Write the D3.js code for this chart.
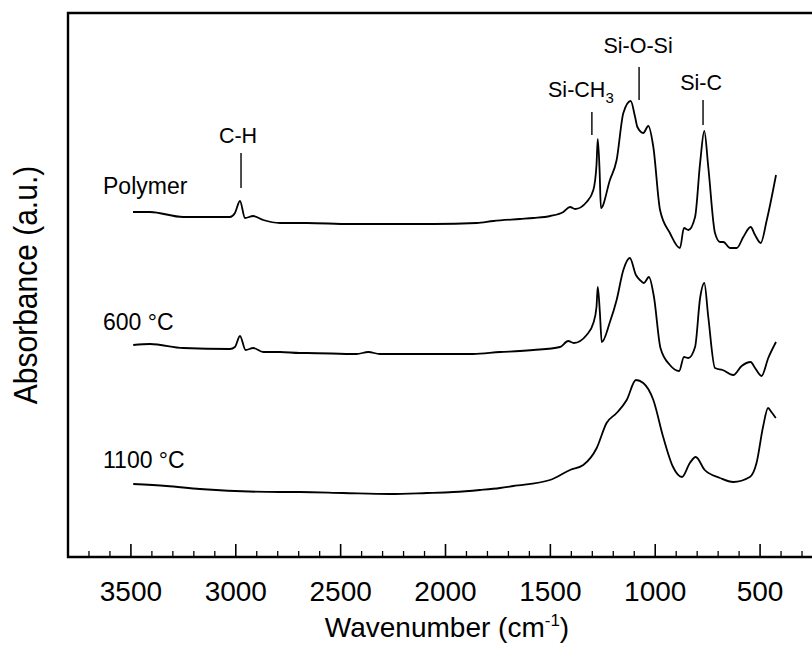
<!DOCTYPE html>
<html>
<head>
<meta charset="utf-8">
<script src="https://cdn.jsdelivr.net/npm/d3@7/dist/d3.min.js"></script>
<style>
  html, body { margin: 0; padding: 0; background: #fff; }
  svg { display: block; font-family: "Liberation Sans", Arial, Helvetica, sans-serif; }
</style>
</head>
<body>
<svg id="chart" width="812" height="648"></svg>
<script>
// ---------- data ----------
const wavenumberTicks = [3500, 3000, 2500, 2000, 1500, 1000, 500];
const seriesNames = ["Polymer", "600 °C", "1100 °C"];

const polymerWn = [3490, 3409, 3251, 3028, 3004, 2980, 2956, 2917, 2869, 2789, 2694, 2662, 2456, 2058, 1851, 1772, 1645, 1581, 1500, 1438, 1406, 1382, 1327, 1295, 1280, 1274, 1265, 1259, 1216, 1184, 1152, 1117, 1096, 1085, 1057, 1033, 1009, 977, 930, 882, 863, 842, 810, 786, 766, 747, 715, 691, 675, 643, 611, 580, 545, 524, 497, 468, 424];
const polymerAbs = [3.45, 3.45, 3.40, 3.40, 3.44, 3.56, 3.39, 3.41, 3.37, 3.34, 3.34, 3.34, 3.33, 3.33, 3.34, 3.36, 3.38, 3.39, 3.41, 3.45, 3.50, 3.48, 3.55, 3.67, 3.92, 4.18, 3.85, 3.49, 3.77, 3.97, 4.44, 4.56, 4.40, 4.30, 4.24, 4.31, 4.10, 3.47, 3.24, 3.09, 3.29, 3.27, 3.40, 3.94, 4.26, 3.90, 3.24, 3.15, 3.15, 3.09, 3.09, 3.20, 3.30, 3.22, 3.14, 3.37, 3.82];

const c600Wn = [3489, 3409, 3251, 3028, 3004, 2980, 2953, 2917, 2869, 2789, 2694, 2662, 2424, 2368, 2313, 1868, 1740, 1645, 1581, 1454, 1415, 1388, 1327, 1295, 1280, 1274, 1264, 1255, 1216, 1184, 1152, 1121, 1092, 1073, 1054, 1030, 1006, 975, 930, 886, 863, 842, 810, 786, 766, 747, 715, 679, 628, 588, 545, 524, 493, 461, 424];
const c600Abs = [2.12, 2.13, 2.09, 2.08, 2.10, 2.21, 2.07, 2.09, 2.05, 2.05, 2.04, 2.04, 2.03, 2.05, 2.03, 2.03, 2.05, 2.06, 2.07, 2.10, 2.16, 2.14, 2.22, 2.34, 2.50, 2.70, 2.45, 2.15, 2.35, 2.57, 2.87, 2.99, 2.82, 2.77, 2.74, 2.80, 2.60, 2.09, 1.92, 1.86, 2.00, 1.99, 2.10, 2.59, 2.74, 2.40, 1.89, 1.87, 1.82, 1.91, 1.95, 1.89, 1.81, 1.99, 2.15];

const c1100Wn = [3489, 3330, 3171, 2789, 2694, 2488, 2265, 2090, 1963, 1836, 1740, 1677, 1502, 1406, 1343, 1279, 1232, 1184, 1136, 1092, 1057, 1009, 962, 915, 872, 835, 807, 764, 691, 628, 549, 517, 486, 462, 446, 425];
const c1100Abs = [0.73, 0.71, 0.68, 0.65, 0.65, 0.64, 0.63, 0.64, 0.65, 0.67, 0.69, 0.71, 0.77, 0.87, 0.92, 1.09, 1.34, 1.44, 1.57, 1.77, 1.74, 1.57, 1.20, 0.90, 0.80, 0.94, 1.00, 0.87, 0.79, 0.75, 0.80, 0.94, 1.30, 1.49, 1.45, 1.39];

// peak annotations: label, wavenumber, line bottom / top and text baseline (absorbance units)
const annotLabels = ["C-H", "Si-CH3", "Si-O-Si", "Si-C"];
const annotWn = [2975, 1302, 1077, 772];
const annotLow = [3.69, 4.22, 4.57, 4.32];
const annotHigh = [4.04, 4.45, 4.90, 4.57];
const annotText = [4.14, 4.60, 5.04, 4.67];

// series label anchor (wavenumber, absorbance)
const seriesLabelWn = [3490, 3490, 3490];
const seriesLabelAbs = [3.63, 2.27, 0.89];

// ---------- drawing ----------
const svg = d3.select("#chart");
const mLeft = 68, mTop = 13, mBottom = 557, mRight = 823;

const x = d3.scaleLinear().domain([3800, 200]).range([mLeft, mRight]);
const y = d3.scaleLinear().domain([0, 5.44]).range([mBottom, mTop]);

const series = [
  polymerWn.map((w, i) => [w, polymerAbs[i]]),
  c600Wn.map((w, i) => [w, c600Abs[i]]),
  c1100Wn.map((w, i) => [w, c1100Abs[i]])
];

const line = d3.line()
  .x(d => x(d[0]))
  .y(d => y(d[1]))
  .curve(d3.curveMonotoneX);

svg.append("g").selectAll("path")
  .data(series)
  .join("path")
  .attr("d", d => line(d.slice().reverse()))
  .attr("fill", "none")
  .attr("stroke", "#000")
  .attr("stroke-width", 1.8)
  .attr("stroke-linejoin", "round");

// frame (left, top, bottom)
svg.append("path")
  .attr("d", `M${mRight},${mTop}H${mLeft}V${mBottom}H${mRight}`)
  .attr("fill", "none")
  .attr("stroke", "#000")
  .attr("stroke-width", 2.4);

// bottom axis, inward ticks
const minorTicks = d3.range(3700, 199, -100).filter(v => v % 500 !== 0);
const axisG = svg.append("g").attr("transform", `translate(0,${mBottom})`);
axisG.selectAll("line.minor")
  .data(minorTicks)
  .join("line")
  .attr("class", "minor")
  .attr("x1", d => x(d)).attr("x2", d => x(d))
  .attr("y1", 0).attr("y2", -6)
  .attr("stroke", "#000").attr("stroke-width", 1.3);
axisG.selectAll("line.major")
  .data(wavenumberTicks)
  .join("line")
  .attr("class", "major")
  .attr("x1", d => x(d)).attr("x2", d => x(d))
  .attr("y1", 0).attr("y2", -13)
  .attr("stroke", "#000").attr("stroke-width", 1.6);
axisG.selectAll("text")
  .data(wavenumberTicks)
  .join("text")
  .attr("x", d => x(d))
  .attr("y", 44)
  .attr("text-anchor", "middle")
  .attr("font-size", 28)
  .attr("fill", "#000")
  .text(d => d);

// axis titles
const xt = svg.append("text")
  .attr("x", 447).attr("y", 637)
  .attr("text-anchor", "middle")
  .attr("font-size", 28)
  .attr("fill", "#000");
xt.append("tspan").text("Wavenumber (cm");
xt.append("tspan").attr("font-size", 17).attr("dy", -11).text("-1");
xt.append("tspan").attr("dy", 11).text(")");

svg.append("text")
  .attr("transform", "translate(37,285) rotate(-90) scale(1,1.12)")
  .attr("text-anchor", "middle")
  .attr("font-size", 30)
  .attr("fill", "#000")
  .text("Absorbance (a.u.)");

// series labels
svg.append("g").selectAll("text")
  .data(seriesNames)
  .join("text")
  .attr("x", (d, i) => x(seriesLabelWn[i]) - 30)
  .attr("y", (d, i) => y(seriesLabelAbs[i]))
  .attr("font-size", 23)
  .attr("fill", "#000")
  .text(d => d);

// peak annotations
const textShift = { "Si-CH3": -11, "Si-O-Si": -1, "Si-C": -2, "C-H": -3 };
const ann = svg.append("g");
annotLabels.forEach((lab, i) => {
  const xx = x(annotWn[i]);
  ann.append("line")
    .attr("x1", xx).attr("x2", xx)
    .attr("y1", y(annotLow[i])).attr("y2", y(annotHigh[i]))
    .attr("stroke", "#000").attr("stroke-width", 1.4);
  const t = ann.append("text")
    .attr("x", xx + textShift[lab])
    .attr("y", y(annotText[i]))
    .attr("text-anchor", "middle")
    .attr("font-size", 21.5)
    .attr("fill", "#000");
  if (lab === "Si-CH3") {
    t.append("tspan").text("Si-CH");
    t.append("tspan").attr("font-size", 15).attr("dy", 6).text("3");
  } else {
    t.text(lab);
  }
});
</script>
</body>
</html>
